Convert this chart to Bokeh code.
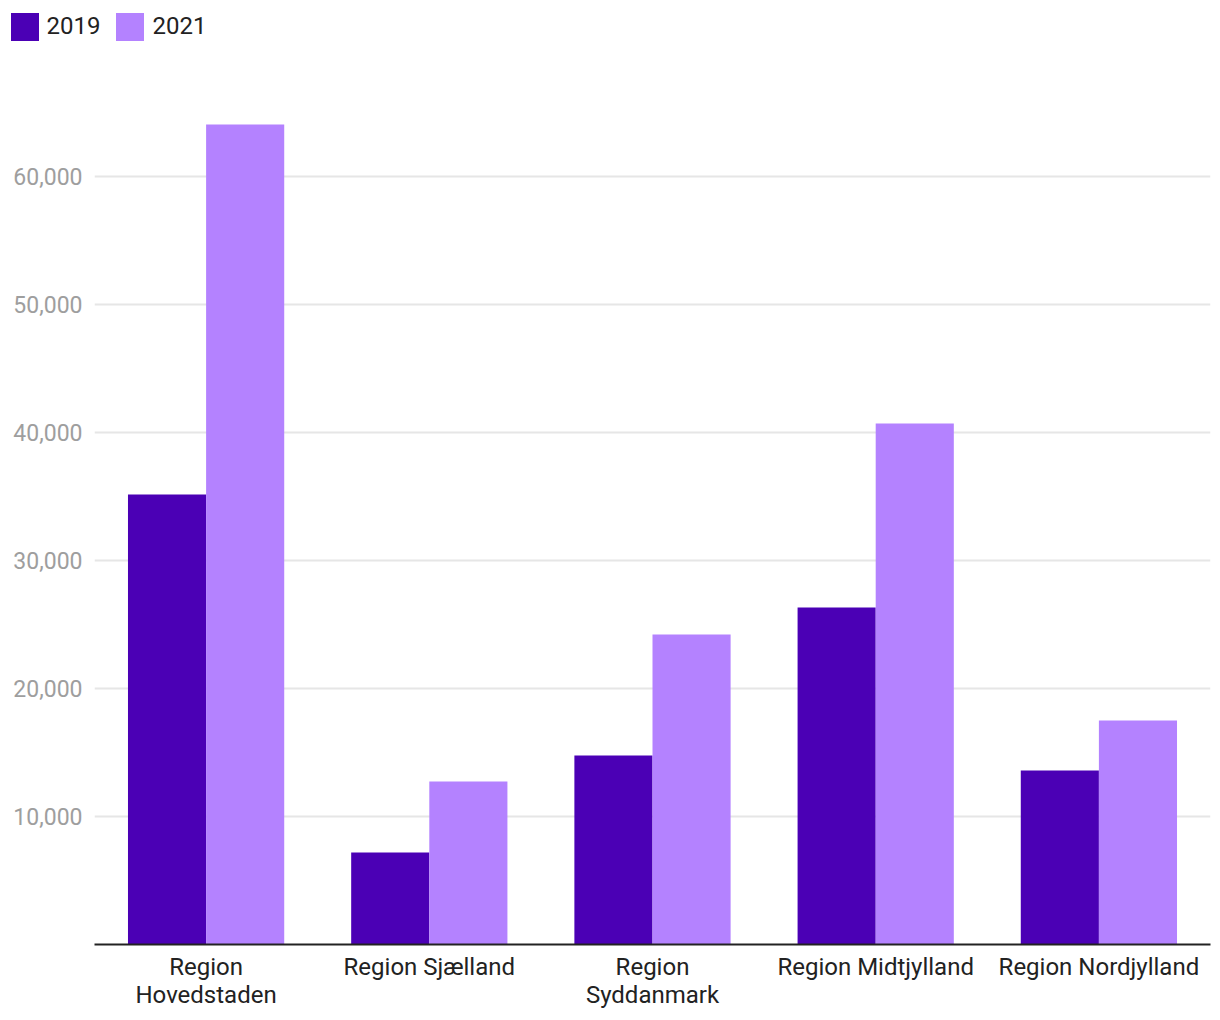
from bokeh.plotting import figure
from bokeh.layouts import column
from bokeh.models import (ColumnDataSource, FactorRange, Range1d, FixedTicker, NumeralTickFormatter,
                          Legend, LegendItem)
from bokeh.transform import dodge
from bokeh.embed import file_html
from bokeh.resources import INLINE

regions = ["Region\nHovedstaden", "Region Sjælland", "Region\nSyddanmark", "Region Midtjylland", "Region Nordjylland"]
v2019 = [35150, 7190, 14770, 26330, 13590]
v2021 = [64060, 12730, 24220, 40700, 17500]
series = ["2019", "2021"]
y_ticks = [10000, 20000, 30000, 40000, 50000, 60000]

C2019 = "#4b00b5"
C2021 = "#b482ff"
FONT = "Roboto"

src = ColumnDataSource(dict(region=regions, v2019=v2019, v2021=v2021))

# ---- main chart ----
p = figure(width=1212, height=960, output_backend="svg", toolbar_location=None,
           x_range=FactorRange(factors=regions, range_padding=0),
           y_range=Range1d(0, 69687.5),
           min_border_left=94, min_border_right=2, min_border_top=0, min_border_bottom=68)
p.outline_line_color = None
p.background_fill_color = "white"
p.border_fill_color = "white"

p.vbar(x=dodge("region", -0.175, range=p.x_range), top="v2019", width=0.35, source=src,
       fill_color=C2019, line_color=None)
p.vbar(x=dodge("region", 0.175, range=p.x_range), top="v2021", width=0.35, source=src,
       fill_color=C2021, line_color=None)

p.xgrid.grid_line_color = None
p.ygrid.grid_line_color = "#e6e6e6"
p.ygrid.grid_line_width = 2
p.ygrid.ticker = FixedTicker(ticks=y_ticks)

p.yaxis.ticker = FixedTicker(ticks=y_ticks)
p.yaxis.formatter = NumeralTickFormatter(format="0,0")
p.yaxis.axis_line_color = None
p.yaxis.major_tick_line_color = None
p.yaxis.minor_tick_line_color = None
p.yaxis.major_label_text_font = FONT
p.yaxis.major_label_text_font_size = "23px"
p.yaxis.major_label_text_color = "#9e9e9e"
p.yaxis.major_label_standoff = 6

p.xaxis.axis_line_color = "#222222"
p.xaxis.axis_line_width = 2
p.xaxis.major_tick_line_color = None
p.xaxis.minor_tick_line_color = None
p.xaxis.major_label_text_font = FONT
p.xaxis.major_label_text_font_size = "24px"
p.xaxis.major_label_text_color = "#222222"
p.xaxis.major_label_text_line_height = 1.0
p.xaxis.major_label_standoff = 2

# ---- legend strip ----
leg = figure(width=1212, height=52, output_backend="svg", toolbar_location=None,
             x_range=Range1d(0, 1), y_range=Range1d(0, 1),
             x_axis_location=None, y_axis_location=None,
             min_border_left=0, min_border_right=0, min_border_top=0, min_border_bottom=0)
leg.grid.visible = False
leg.outline_line_color = None
# zero-height swatch renderers (only used to draw the legend keys)
l1 = leg.vbar(x=[0.5], top=[0], bottom=[0], width=0.0, fill_color=C2019, line_color=None)
l2 = leg.vbar(x=[0.5], top=[0], bottom=[0], width=0.0, fill_color=C2021, line_color=None)
legend = Legend(items=[LegendItem(label=series[0], renderers=[l1]), LegendItem(label=series[1], renderers=[l2])],
                orientation="horizontal", location=(6.5, 8.5),
                glyph_width=35, glyph_height=35, label_standoff=5, spacing=12,
                padding=0, margin=0, border_line_color=None, background_fill_alpha=0,
                label_text_font=FONT, label_text_font_size="24px", label_text_color="#222222")
leg.add_layout(legend, "center")

for fig in (leg, p):
    if "frame_align" in fig.properties():
        fig.frame_align = False

layout = column(leg, p, spacing=0)
open("out.html", "w").write(file_html(layout, INLINE))
